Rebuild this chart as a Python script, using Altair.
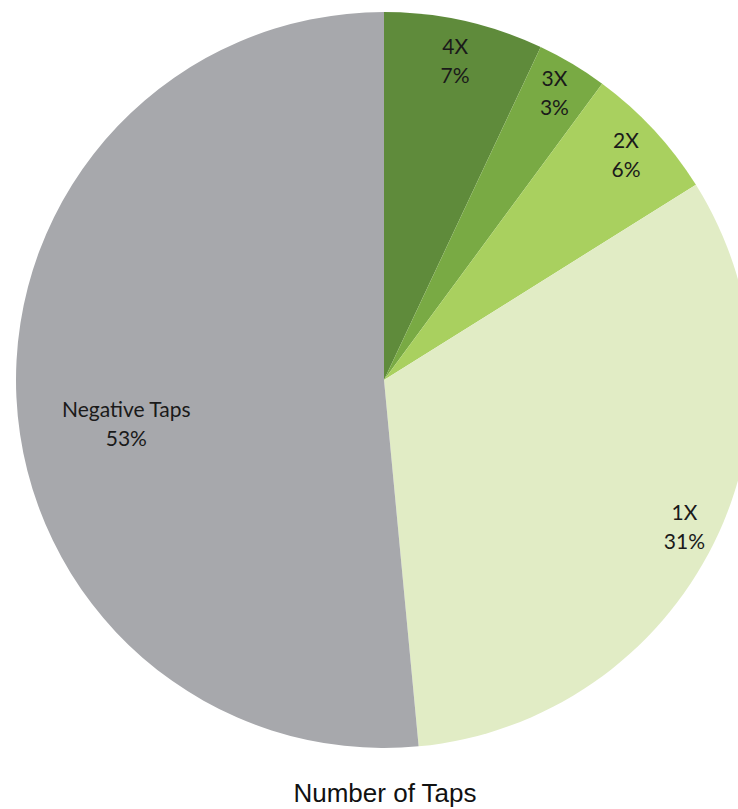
import altair as alt
import pandas as pd

categories = ["4X", "3X", "2X", "1X", "Negative Taps"]
shares = [7.0, 3.1, 6.0, 32.4, 51.5]          # slice sizes as drawn
pct_labels = ["7%", "3%", "6%", "31%", "53%"]   # printed labels
colors = ["#5f8b3b", "#79aa44", "#a9d05f", "#e1ecc5", "#a7a8ac"]
label_radius = [326, 333, 330, 335, 262]

df = pd.DataFrame({
    "cat": categories,
    "share": shares,
    "idx": list(range(len(categories))),
    "label": [c + "\n" + p for c, p in zip(categories, pct_labels)],
    "lr": label_radius,
})

CX, CY, R = 384, 380, 368
TAU = 6.283185307179586

pie = alt.Chart(df).mark_arc(radius=R, stroke=None).encode(
    theta=alt.Theta("share:Q", stack=True),
    order=alt.Order("idx:Q"),
    x=alt.value(CX), y=alt.value(CY),
    color=alt.Color("cat:N", scale=alt.Scale(domain=categories, range=colors), legend=None),
)

lab_base = alt.Chart(df).transform_joinaggregate(
    total="sum(share)"
).transform_window(
    cum="sum(share)", sort=[alt.SortField("idx")], frame=[None, 0]
).transform_calculate(
    mid="(datum.cum - datum.share / 2) / datum.total"
)

txt_props = dict(font="Lato", fontSize=21, color="#1a1a1a", lineBreak="\n",
                 lineHeight=29, align="center", baseline="middle")

def lab_layer(cond, **extra):
    return lab_base.transform_filter(cond).mark_text(**txt_props, **extra).encode(
        theta=alt.Theta("mid:Q", stack=False, scale=alt.Scale(domain=[0, 1], range=[0, TAU])),
        x=alt.value(CX), y=alt.value(CY),
        radius=alt.Radius("lr:Q", scale=None),
        text="label:N",
    )

labels_green = lab_layer(alt.datum.idx < 4, dy=-14)
labels_neg = lab_layer(alt.datum.idx == 4, dy=19, dx=4)

title = alt.Chart(pd.DataFrame({"t": ["Number of Taps"]})).mark_text(
    font="Arial", fontSize=26, color="#111111", align="center", baseline="middle"
).encode(x=alt.value(385), y=alt.value(794), text="t:N")

chart = alt.layer(pie, labels_green, labels_neg, title).resolve_scale(
    theta="independent"
).properties(
    width=738, height=809,
    autosize=alt.AutoSizeParams(type="none"),
    padding=0,
).configure_view(stroke=None)

chart.save("out.html", embed_options={"renderer": "svg", "actions": False})
